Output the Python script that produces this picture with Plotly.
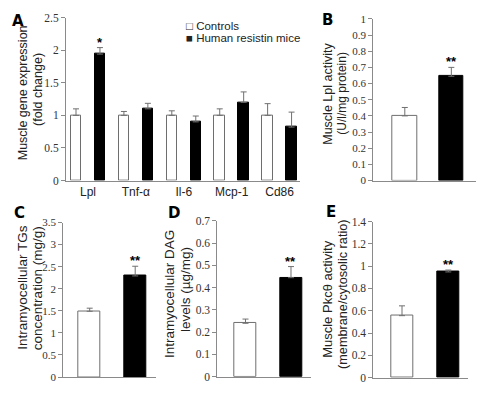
import plotly.graph_objects as go

W, H = 479, 395

# ---------------- data ----------------
series_names = ["Controls", "Human resistin mice"]

genes = ["Lpl", "Tnf-α", "Il-6", "Mcp-1", "Cd86"]
a_ctrl = [1.0, 1.0, 1.0, 1.0, 1.0]
a_ctrl_err = [0.10, 0.06, 0.07, 0.10, 0.18]
a_res = [1.94, 1.10, 0.90, 1.20, 0.82]
a_res_err = [0.10, 0.085, 0.09, 0.16, 0.23]
a_sig = ["*", "", "", "", ""]

b_vals = [0.40, 0.645]
b_err = [0.052, 0.055]
c_vals = [1.49, 2.29]
c_err = [0.07, 0.22]
d_vals = [0.24, 0.445]
d_err = [0.019, 0.05]
e_vals = [0.556, 0.948]
e_err = [0.088, 0.017]
two_sig = ["", "**"]

# ---------------- helpers ----------------
def px_x(p):
    return p / W


def px_y(p):
    return 1 - p / H


AXIS_GREY = "#8a8a8a"
SERIF = "Liberation Serif, Times New Roman, Times, serif"
SANS = "Liberation Sans, Arial, Helvetica, sans-serif"
BAR_EDGE = "#6e6e6e"
ERR_COL = "#707070"

fig = go.Figure()

# Panel A grouped bars
fig.add_trace(go.Bar(
    x=genes, y=a_ctrl, name=series_names[0], width=0.22,
    marker=dict(color="white", line=dict(color=BAR_EDGE, width=1)),
    error_y=dict(type="data", array=a_ctrl_err, arrayminus=[0] * len(genes),
                 symmetric=False, color=ERR_COL, thickness=1, width=3),
    xaxis="x", yaxis="y", showlegend=False,
))
fig.add_trace(go.Bar(
    x=genes, y=a_res, name=series_names[1], width=0.22,
    marker=dict(color="black", line=dict(color="black", width=1)),
    error_y=dict(type="data", array=a_res_err, arrayminus=[0] * len(genes),
                 symmetric=False, color=ERR_COL, thickness=1, width=3),
    xaxis="x", yaxis="y", showlegend=False,
))

panels = [
    ("2", b_vals, b_err),
    ("3", c_vals, c_err),
    ("4", d_vals, d_err),
    ("5", e_vals, e_err),
]
widths = {"2": 0.53, "3": 0.48, "4": 0.48, "5": 0.475}
for ax, vals, err in panels:
    fig.add_trace(go.Bar(
        x=series_names, y=vals, width=widths[ax],
        marker=dict(color=["white", "black"],
                    line=dict(color=[BAR_EDGE, "black"], width=1)),
        error_y=dict(type="data", array=err, arrayminus=[0, 0],
                     symmetric=False, color=ERR_COL, thickness=1, width=3),
        xaxis="x" + ax, yaxis="y" + ax, showlegend=False,
    ))

# ---------------- axes ----------------
def yaxis(dom, rng, dtick, anchor, fs):
    return dict(domain=dom, range=rng, dtick=dtick, anchor=anchor,
                showline=True, linecolor=AXIS_GREY, linewidth=1,
                ticks="outside", ticklen=4, tickcolor=AXIS_GREY,
                tickfont=dict(family=SERIF, size=fs, color="#333333"),
                showgrid=False, zeroline=False, fixedrange=True)


def xaxis(dom, rng, anchor, labels=False):
    return dict(domain=dom, range=rng, anchor=anchor, type="category",
                showline=True, linecolor=AXIS_GREY, linewidth=1,
                ticks="", showticklabels=labels, showgrid=False,
                zeroline=False, fixedrange=True,
                tickfont=dict(family=SANS, size=12, color="#222222"))


layout = dict(
    width=W, height=H, margin=dict(l=0, r=0, t=0, b=0),
    paper_bgcolor="white", plot_bgcolor="white",
    barmode="group", bargap=0, bargroupgap=0, showlegend=False,
    xaxis=xaxis([px_x(66), px_x(300)], [-0.459, 4.426], "y", labels=True),
    yaxis=yaxis([px_y(180), px_y(12)], [0, 2.5], 0.5, "x", 11.5),
    xaxis2=xaxis([px_x(373.3), px_x(476)], [-0.677, 1.53], "y2"),
    yaxis2=yaxis([px_y(180), px_y(13.3)], [0, 1], 0.1, "x2", 11),
    xaxis3=xaxis([px_x(63.3), px_x(156)], [-0.58, 1.457], "y3"),
    yaxis3=yaxis([px_y(382.7), px_y(223.3)], [0, 3.5], 0.5, "x3", 11),
    xaxis4=xaxis([px_x(217.3), px_x(311)], [-0.62, 1.44], "y4"),
    yaxis4=yaxis([px_y(382.3), px_y(221.7)], [0, 0.7], 0.1, "x4", 11.5),
    xaxis5=xaxis([px_x(373.3), px_x(468)], [-0.62, 1.425], "y5"),
    yaxis5=yaxis([px_y(383.3), px_y(222.3)], [0, 1.4], 0.2, "x5", 11.5),
)
fig.update_layout(**layout)

ann = []
# significance marks
for g, v, e, s in zip(genes, a_res, a_res_err, a_sig):
    if s:
        ann.append(dict(x=g, y=v + e, xref="x", yref="y", text="<b>" + s + "</b>",
                        showarrow=False, yanchor="bottom", yshift=-4,
                        xshift=int(round(0.25 * 47.9)),
                        font=dict(family=SANS, size=13, color="black")))
for ax, vals, err in panels:
    for cat, v, e, s in zip(series_names, vals, err, two_sig):
        if s:
            ann.append(dict(x=cat, y=v + e, xref="x" + ax, yref="y" + ax,
                            text="<b>" + s + "</b>", showarrow=False,
                            yanchor="bottom", yshift=-4,
                            font=dict(family=SANS, size=13, color="black")))

# panel letters
for letter, cx, cy in [("A", 18, 15), ("B", 327, 14), ("C", 19, 213.5),
                       ("D", 174, 213.5), ("E", 331, 212.5)]:
    ann.append(dict(x=px_x(cx), y=px_y(cy), xref="paper", yref="paper",
                    text="<b>" + letter + "</b>", showarrow=False,
                    xanchor="center", yanchor="middle",
                    font=dict(family="DejaVu Sans", size=15, color="black")))

# y-axis titles, one annotation per line: (text, x centre, y centre, size)
title_lines = [
    ("Muscle gene expression", 23, 90, 12.5),
    ("(fold change)", 38.5, 86, 12.5),
    ("Muscle Lpl activity", 328, 90.5, 12.5),
    ("(U/l/mg protein)", 342, 90.5, 12),
    ("Intramyocellular TGs", 22.5, 290, 13.5),
    ("concentration (mg/g)", 37, 291, 13.5),
    ("Intramyocellular DAG", 170, 297, 13.5),
    ("levels (µg/mg)", 185, 293, 13.5),
    ("Muscle Pkcθ activity", 328, 302, 13),
    ("(membrane/cytosolic ratio)", 343, 298, 12.7),
]
for txt, cx, cy, fs in title_lines:
    ann.append(dict(x=px_x(cx), y=px_y(cy), xref="paper", yref="paper",
                    text=txt, showarrow=False, textangle=-90,
                    xanchor="center", yanchor="middle",
                    font=dict(family=SANS, size=fs, color="#222222")))

# legend (panel A)
ann.append(dict(x=px_x(184), y=px_y(21), xref="paper", yref="paper",
                text="□" + " " + series_names[0], showarrow=False,
                xanchor="left", yanchor="middle",
                font=dict(family=SANS, size=11.5, color="#222222")))
ann.append(dict(x=px_x(184), y=px_y(33.5), xref="paper", yref="paper",
                text="■" + " " + series_names[1], showarrow=False,
                xanchor="left", yanchor="middle",
                font=dict(family=SANS, size=11.5, color="#222222")))

fig.update_layout(annotations=ann)
fig.write_html(
    "out.html",
    config={"displayModeBar": False},
    post_script="document.body.style.margin='0';document.body.style.padding='0';",
)
